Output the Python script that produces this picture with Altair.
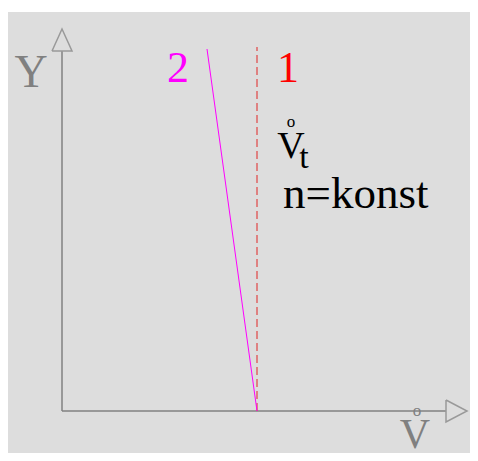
import altair as alt
import pandas as pd

# Schematic coordinates: origin at axis corner (flow, head)
axis_x = [0, 384]          # horizontal axis extent
axis_y = [0, 360]          # vertical axis extent
arrow_y_x = [-10, 0, 10, -10]
arrow_y_y = [360, 382, 360, 360]
arrow_x_x = [384, 405, 384, 384]
arrow_x_y = [11, 0, -11, 11]

line1_x = [195, 195]
line1_y = [0, 364]
line2_x = [145, 195]
line2_y = [362, 0]

labels = ["2", "1", "n=konst"]
labels_x = [116, 226, 221]
labels_y = [329, 329, 203]

FONT = "Liberation Serif"
W, H = 462, 445
xs = alt.Scale(domain=[-54, 408], nice=False, zero=False)
ys = alt.Scale(domain=[-42, 403], nice=False, zero=False)

def X(f="x"):
    return alt.X(f"{f}:Q", scale=xs, axis=None)

def Y(f="y"):
    return alt.Y(f"{f}:Q", scale=ys, axis=None)

bg = alt.Chart(pd.DataFrame({"x": [-55], "x2": [420], "y": [-45], "y2": [399]})).mark_rect(
    color="#dddddd").encode(x=X(), x2="x2:Q", y=Y(), y2="y2:Q")

axes_df = pd.DataFrame({
    "x": [axis_x[0], axis_x[0]], "x2": [axis_x[1], axis_x[0]],
    "y": [axis_y[0], axis_y[0]], "y2": [axis_y[0], axis_y[1]],
})
axes = alt.Chart(axes_df).mark_rule(color="#808080", strokeWidth=1.5).encode(
    x=X(), x2="x2:Q", y=Y(), y2="y2:Q")

arr_df = pd.DataFrame({
    "x": arrow_y_x + arrow_x_x,
    "y": arrow_y_y + arrow_x_y,
    "g": ["a"] * 4 + ["b"] * 4,
    "o": list(range(4)) * 2,
})
arrows = alt.Chart(arr_df).mark_line(color="#999999", strokeWidth=1.5).encode(
    x=X(), y=Y(), detail="g:N", order="o:Q")

l1 = alt.Chart(pd.DataFrame({"x": line1_x, "y": line1_y})).mark_line(
    color="#e04545", strokeWidth=1.2, strokeDash=[8, 4]).encode(x=X(), y=Y())
l2 = alt.Chart(pd.DataFrame({"x": line2_x, "y": line2_y})).mark_line(
    color="#ff00ff", strokeWidth=1).encode(x=X(), y=Y())

txt_df = pd.DataFrame({
    "t": ["2", "1"], "x": labels_x[:2], "y": labels_y[:2], "c": ["#ff00ff", "#ff0000"]})
nums = alt.Chart(txt_df).mark_text(font=FONT, fontSize=44, align="center",
                                   baseline="alphabetic").encode(
    x=X(), y=Y(), text="t:N", color=alt.Color("c:N", scale=None))

konst = alt.Chart(pd.DataFrame({"t": [labels[2]], "x": [labels_x[2]], "y": [labels_y[2]]})).mark_text(
    font=FONT, fontSize=45, align="left", baseline="alphabetic", color="black").encode(
    x=X(), y=Y(), text="t:N")

vt_df = pd.DataFrame({
    "t": ["V", "o", "t"], "x": [229, 229, 242], "y": [253, 284, 243], "s": [38, 17, 34]})
vt = alt.Chart(vt_df).mark_text(font=FONT, align="center", baseline="alphabetic",
                                color="black").encode(
    x=X(), y=Y(), text="t:N", size=alt.Size("s:Q", scale=None, legend=None))

ax_lab_df = pd.DataFrame({
    "t": ["Y", "V", "o"], "x": [-31, 353, 355], "y": [324, -37, -5], "s": [46, 42, 17]})
ax_lab = alt.Chart(ax_lab_df).mark_text(font=FONT, align="center", baseline="alphabetic",
                                        color="#808080").encode(
    x=X(), y=Y(), text="t:N", size=alt.Size("s:Q", scale=None, legend=None))

chart = alt.layer(bg, axes, arrows, l1, l2, nums, konst, vt, ax_lab).properties(
    width=W, height=H, autosize=alt.AutoSizeParams(type="none"), padding=0,
    background="white"
).configure_view(stroke=None).configure_text(font=FONT)

chart.save("out.html", embed_options={"renderer": "svg", "actions": False})
